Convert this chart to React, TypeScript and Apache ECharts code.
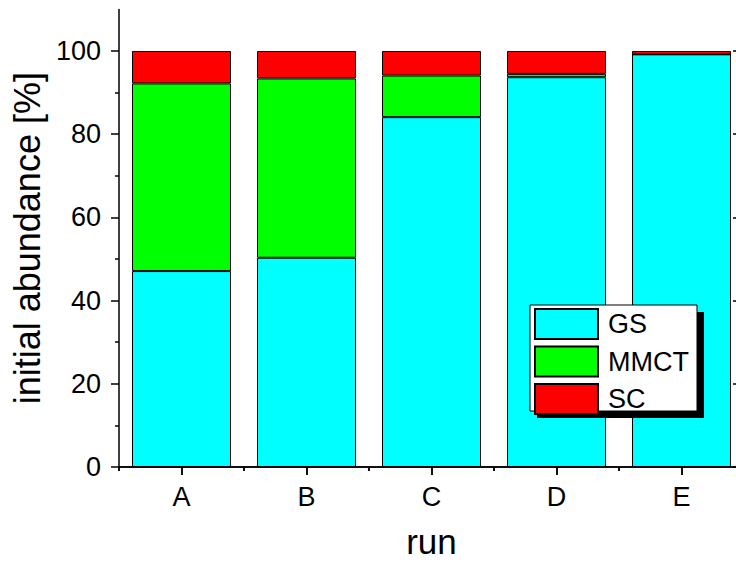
import React, { useEffect, useRef } from "react";
import * as echarts from "echarts";

const categories = ["A", "B", "C", "D", "E"];
const seriesNames = ["GS", "MMCT", "SC"];
const gsValues = [47.1, 50.3, 84.1, 93.7, 99.2];
const mmctValues = [45.1, 43.1, 10.0, 0.8, 0];
const scValues = [7.8, 6.6, 5.9, 5.5, 0.8];
const seriesColors = ["#00FFFF", "#00FF00", "#FF0000"];
const yMajorTicks = [0, 20, 40, 60, 80, 100];
const yMinorTicks = [10, 30, 50, 70, 90];

const FONT = "'Liberation Sans', Arial, Helvetica, sans-serif";

export default function App() {
  const ref = useRef<HTMLDivElement>(null);
  useEffect(() => {
    if (!ref.current) return;
    const chart = echarts.init(ref.current, undefined, { renderer: "svg" });
    const values = [gsValues, mmctValues, scValues];
    const axisLine = { show: true, lineStyle: { color: "#000", width: 1.5 } };
    const tickStyle = { color: "#000", width: 1.5 };
    const yBase = { type: "value", min: 0, max: 110, splitLine: { show: false } };
    const xBase = { type: "category", data: categories, splitLine: { show: false } };
    chart.setOption({
      animation: false,
      backgroundColor: "#fff",
      textStyle: { fontFamily: FONT },
      grid: { left: 119, right: -8, top: 9.4, bottom: 96, containLabel: false, outerBoundsMode: "none" },
      xAxis: [
        {
          ...xBase,
          position: "bottom",
          axisLine,
          axisTick: { show: true, alignWithLabel: true, length: 8, inside: false, lineStyle: tickStyle },
          axisLabel: { show: true, fontSize: 27, color: "#000", margin: 16, fontFamily: FONT },
          name: "run",
          nameLocation: "middle",
          nameGap: 59,
          nameTextStyle: { fontSize: 35, lineHeight: 30, color: "#000", fontFamily: FONT },
        },
        {
          ...xBase,
          position: "bottom",
          axisLine: { show: false },
          axisTick: { show: true, alignWithLabel: false, length: 4, inside: false, lineStyle: tickStyle },
          axisLabel: { show: false },
        },
        {
          ...xBase,
          position: "top",
          axisLine,
          axisTick: { show: true, alignWithLabel: true, length: 8, inside: true, lineStyle: tickStyle },
          axisLabel: { show: false },
        },
        {
          ...xBase,
          position: "top",
          axisLine: { show: false },
          axisTick: { show: true, alignWithLabel: false, length: 4, inside: true, lineStyle: tickStyle },
          axisLabel: { show: false },
        },
      ],
      yAxis: [
        {
          ...yBase,
          position: "left",
          axisLine,
          axisTick: { show: true, length: 8, inside: false, customValues: yMajorTicks, lineStyle: tickStyle },
          axisLabel: { show: true, customValues: yMajorTicks, fontSize: 27, color: "#000", margin: 18, fontFamily: FONT },
          name: "initial abundance [%]",
          nameLocation: "middle",
          nameGap: 66,
          nameTextStyle: { fontSize: 36, color: "#000", fontFamily: FONT },
        },
        {
          ...yBase,
          position: "left",
          axisLine: { show: false },
          axisTick: { show: true, length: 4, inside: false, customValues: yMinorTicks, lineStyle: tickStyle },
          axisLabel: { show: false },
        },
        {
          ...yBase,
          position: "right",
          axisLine,
          axisTick: { show: true, length: 11, inside: true, customValues: yMajorTicks, lineStyle: tickStyle },
          axisLabel: { show: false },
        },
        {
          ...yBase,
          position: "right",
          axisLine: { show: false },
          axisTick: { show: true, length: 4, inside: true, customValues: yMinorTicks, lineStyle: tickStyle },
          axisLabel: { show: false },
        },
      ],
      legend: {
        show: true,
        orient: "vertical",
        left: 534,
        top: 308,
        padding: 0,
        itemWidth: 63,
        itemHeight: 30,
        itemGap: 5.5,
        icon: "rect",
        data: seriesNames,
        z: 10,
        textStyle: { fontSize: 27, color: "#000", fontFamily: FONT, padding: [0, 0, 0, 5] },
      },
      graphic: [
        { type: "rect", z: 5, silent: true, shape: { x: 537, y: 312, width: 167, height: 106 }, style: { fill: "#000" } },
        { type: "rect", z: 6, silent: true, shape: { x: 530, y: 305, width: 167, height: 106 }, style: { fill: "#fff", stroke: "#000", lineWidth: 1 } },
      ],
      series: seriesNames.map((name, i) => ({
        name,
        type: "bar",
        stack: "total",
        xAxisIndex: 0,
        yAxisIndex: 0,
        barCategoryGap: "20.8%",
        data: values[i],
        itemStyle: { color: seriesColors[i], borderColor: "#000", borderWidth: 1 },
      })),
    });
    return () => chart.dispose();
  }, []);
  return (
    <div
      ref={ref}
      style={{ position: "fixed", left: 0, top: 0, width: 736, height: 563, background: "#fff" }}
    />
  );
}
